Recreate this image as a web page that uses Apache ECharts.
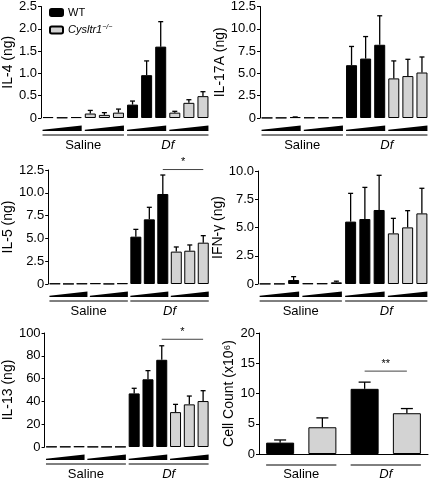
<!DOCTYPE html>
<html><head><meta charset="utf-8">
<script src="https://cdn.jsdelivr.net/npm/echarts@6/dist/echarts.min.js"></script>
<style>html,body{margin:0;padding:0;background:#fff}#c{width:431px;height:479px}</style>
</head><body><div id="c"></div><script>
// ---- data ----
const doseCategories = ['S-WT-1','S-WT-2','S-WT-3','S-KO-1','S-KO-2','S-KO-3','D-WT-1','D-WT-2','D-WT-3','D-KO-1','D-KO-2','D-KO-3'];
const cellCategories = ['Saline WT','Saline KO','Df WT','Df KO'];
const groupLabels = ['Saline','Df'];
const wtIndex = [0,1,2,6,7,8];
const cellWtIndex = [0,2];

const il4Mean  = [0.02,0.01,0.02, 0.10,0.07,0.12, 0.30,0.96,1.60, 0.12,0.34,0.49];
const il4Upper = [0.02,0.01,0.02, 0.17,0.12,0.20, 0.38,1.28,2.16, 0.15,0.41,0.59];
const il17Mean  = [0.02,0.03,0.10, 0.05,0.05,0.05, 5.92,6.66,8.21, 4.44,4.70,5.10];
const il17Upper = [0.02,0.03,0.12, 0.05,0.05,0.05, 8.02,9.13,11.46, 6.40,6.58,6.84];
const il5Mean  = [0.05,0.02,0.05, 0.08,0.02,0.08, 5.19,7.09,9.87, 3.55,3.65,4.53];
const il5Upper = [0.05,0.02,0.05, 0.08,0.02,0.08, 5.99,8.41,11.95, 4.06,4.28,5.30];
const ifnMean  = [0.02,0.02,0.35, 0.05,0.05,0.15, 5.52,5.75,6.55, 4.48,5.01,6.25];
const ifnUpper = [0.02,0.02,0.65, 0.05,0.05,0.25, 8.02,8.55,9.62, 5.81,6.49,8.47];
const il13Mean  = [0.3,0.3,0.5, 0.2,0.2,0.2, 47.0,59.4,76.5, 30.6,37.4,40.3];
const il13Upper = [0.3,0.3,0.5, 0.2,0.2,0.2, 51.5,67.0,88.8, 37.4,44.7,49.4];
const cellMean  = [1.88,4.42,10.77,6.74];
const cellUpper = [2.32,5.97,11.88,7.51];

const il4Ticks  = ['0','0.5','1.0','1.5','2.0','2.5'];
const il17Ticks = ['0','2.5','5.0','7.5','10.0','12.5'];
const il5Ticks  = ['0','2.5','5.0','7.5','10.0','12.5'];
const ifnTicks  = ['0','2.5','5.0','7.5','10.0'];
const il13Ticks = ['0','20','40','60','80','100'];
const cellTicks = ['0','5','10','15','20'];

// significance brackets: [fromIndex, toIndex, yValue, label]
const il5Sig  = [[8, 11, 12.55, '*']];
const il13Sig = [[8, 11, 94.5, '*']];
const cellSig = [[2, 3, 13.7, '**']];

const doseWedges = [[0,2],[3,5],[6,8],[9,11]];
const doseGroups = [[0,5,0],[6,11,1]];
const cellGroups = [[0,1,0],[2,3,1]];

// ---- layout ----
const FONT = 'Liberation Sans, Arial, Helvetica, sans-serif';
const panels = [
  {name:'IL-4 (ng)', cats:doseCategories, mean:il4Mean, upper:il4Upper, ticks:il4Ticks, max:2.5, interval:0.5, grid:{left:40,top:6,width:170,height:112}, gap:26, sig:[], wedges:true, groups:doseGroups, wt:wtIndex},
  {name:'IL-17A (ng)', cats:doseCategories, mean:il17Mean, upper:il17Upper, ticks:il17Ticks, max:12.5, interval:2.5, grid:{left:260,top:6,width:169,height:112}, gap:29, sig:[], wedges:true, groups:doseGroups, wt:wtIndex},
  {name:'IL-5 (ng)', cats:doseCategories, mean:il5Mean, upper:il5Upper, ticks:il5Ticks, max:12.5, interval:2.5, grid:{left:40,top:170,width:170,height:114}, gap:27, sig:il5Sig, wedges:true, groups:doseGroups, wt:wtIndex},
  {name:'IFN-γ (ng)', cats:doseCategories, mean:ifnMean, upper:ifnUpper, ticks:ifnTicks, max:10, interval:2.5, grid:{left:258,top:171,width:171,height:113}, gap:26, sig:[], wedges:true, groups:doseGroups, wt:wtIndex},
  {name:'IL-13 (ng)', cats:doseCategories, mean:il13Mean, upper:il13Upper, ticks:il13Ticks, max:100, interval:20, grid:{left:40,top:333,width:170,height:114}, gap:26, sig:il13Sig, wedges:true, groups:doseGroups, wt:wtIndex},
  {name:'Cell Count (x10⁶)', cats:cellCategories, mean:cellMean, upper:cellUpper, ticks:cellTicks, max:20, interval:5, grid:{left:259,top:333,width:169,height:121}, gap:21, sig:cellSig, wedges:false, groups:cellGroups, wt:cellWtIndex}
];

const grids=[], xAxes=[], yAxes=[], series=[];
panels.forEach((p,k)=>{
  const isCell = !p.wedges;
  grids.push(Object.assign({containLabel:false}, p.grid));
  xAxes.push({type:'category', gridIndex:k, data:p.cats, axisLabel:{show:false}, axisTick:{show:false},
    axisLine:{show:isCell, lineStyle:{color:'#000', width:1}}});
  yAxes.push({type:'value', gridIndex:k, min:0, max:p.max, interval:p.interval,
    name:p.name, nameLocation:'middle', nameGap:p.gap, nameRotate:90,
    nameTextStyle:{fontFamily:FONT, fontSize:14, color:'#000'},
    axisLine:{show:true, lineStyle:{color:'#000', width:1}},
    axisTick:{show:true, length:3, lineStyle:{color:'#000'}},
    splitLine:{show:false},
    axisLabel:{fontFamily:FONT, fontSize:13, color:'#000', margin:4,
      formatter:(v)=>p.ticks[Math.round(v/p.interval)]}});
  const bw = isCell ? 28 : 11;
  const wtData = p.mean.map((v,i)=>p.wt.includes(i)?v:null);
  const koData = p.mean.map((v,i)=>p.wt.includes(i)?null:v);
  series.push({type:'bar', name:'WT', xAxisIndex:k, yAxisIndex:k, data:wtData, barWidth:bw, barGap:'-100%',
    itemStyle:{color:'#000', borderColor:'#000', borderWidth:1}, z:3, animation:false});
  series.push({type:'bar', name:'Cysltr1', xAxisIndex:k, yAxisIndex:k, data:koData, barWidth:bw, barGap:'-100%',
    itemStyle:{color:'#d3d3d3', borderColor:'#000', borderWidth:1}, z:3, animation:false});
  // error bars
  series.push({type:'custom', xAxisIndex:k, yAxisIndex:k, z:2, silent:true, animation:false,
    data:p.mean.map((m,i)=>[i,m,p.upper[i]]),
    renderItem:(params,api)=>{
      const i=api.value(0), m=api.value(1), u=api.value(2);
      if(u-m <= 1e-9) return null;
      const a=api.coord([i,m]), b=api.coord([i,u]);
      const cap = isCell ? 6 : 2.5;
      return {type:'group', children:[
        {type:'line', shape:{x1:a[0],y1:a[1],x2:b[0],y2:b[1]}, style:{stroke:'#000',lineWidth:1.3}},
        {type:'line', shape:{x1:b[0]-cap,y1:b[1],x2:b[0]+cap,y2:b[1]}, style:{stroke:'#000',lineWidth:1.3}}
      ]};
    }});
  // dose wedges
  if(p.wedges){
    series.push({type:'custom', xAxisIndex:k, yAxisIndex:k, silent:true, animation:false, clip:false,
      data:doseWedges,
      renderItem:(params,api)=>{
        const s=api.coord([api.value(0),0]), e=api.coord([api.value(1),0]);
        const x0=s[0]-bw/2, x1=e[0]+bw/2, base=s[1]+13;
        return {type:'polygon', shape:{points:[[x0,base],[x1,base],[x1,base-5.5],[x0,base-1.2]]}, style:{fill:'#000'}};
      }});
  }
  // group lines + labels
  series.push({type:'custom', xAxisIndex:k, yAxisIndex:k, silent:true, animation:false, clip:false,
    data:p.groups,
    renderItem:(params,api)=>{
      const s=api.coord([api.value(0),0]), e=api.coord([api.value(1),0]);
      const lbl=groupLabels[api.value(2)];
      const x0=s[0]-bw/2, x1=e[0]+bw/2;
      const ly = s[1] + (isCell ? 11 : 17);
      const ty = s[1] + (isCell ? 20 : 27);
      return {type:'group', children:[
        {type:'line', shape:{x1:x0,y1:ly,x2:x1,y2:ly}, style:{stroke:'#000',lineWidth:1}},
        {type:'text', style:{text:lbl, x:(x0+x1)/2, y:ty, align:'center', verticalAlign:'middle',
          font:(lbl==='Df'?'italic ':'')+'13px '+FONT, fill:'#000'}}
      ]};
    }});
  // significance
  if(p.sig.length){
    series.push({type:'custom', xAxisIndex:k, yAxisIndex:k, silent:true, animation:false, clip:false,
      data:p.sig.map(s=>[s[0],s[1],s[2]]),
      renderItem:(params,api)=>{
        const a=api.coord([api.value(0),api.value(2)]), b=api.coord([api.value(1),api.value(2)]);
        const txt=p.sig[params.dataIndex][3];
        return {type:'group', children:[
          {type:'line', shape:{x1:a[0],y1:a[1],x2:b[0],y2:b[1]}, style:{stroke:'#444',lineWidth:1}},
          {type:'text', style:{text:txt, x:(a[0]+b[0])/2, y:a[1]-2, align:'center', verticalAlign:'bottom',
            font:'11px '+FONT, fill:'#000'}}
        ]};
      }});
  }
});

const chart = echarts.init(document.getElementById('c'), null, {renderer:'canvas'});
chart.setOption({
  animation:false,
  backgroundColor:'#fff',
  grid:grids, xAxis:xAxes, yAxis:yAxes, series:series,
  legend:{show:true, data:['WT','Cysltr1'], orient:'vertical', left:44, top:2, itemWidth:13, itemHeight:7, itemGap:6,
    selectedMode:false,
    textStyle:{fontFamily:FONT, fontSize:11, color:'#000',
      rich:{it:{fontStyle:'italic', fontFamily:FONT, fontSize:11}, sup:{fontStyle:'italic', fontFamily:FONT, fontSize:7, verticalAlign:'top', padding:[0,0,5,0]}}},
    formatter:(n)=> n==='WT' ? 'WT' : '{it|Cysltr1}{sup|−/−}'}
});
</script></body></html>
